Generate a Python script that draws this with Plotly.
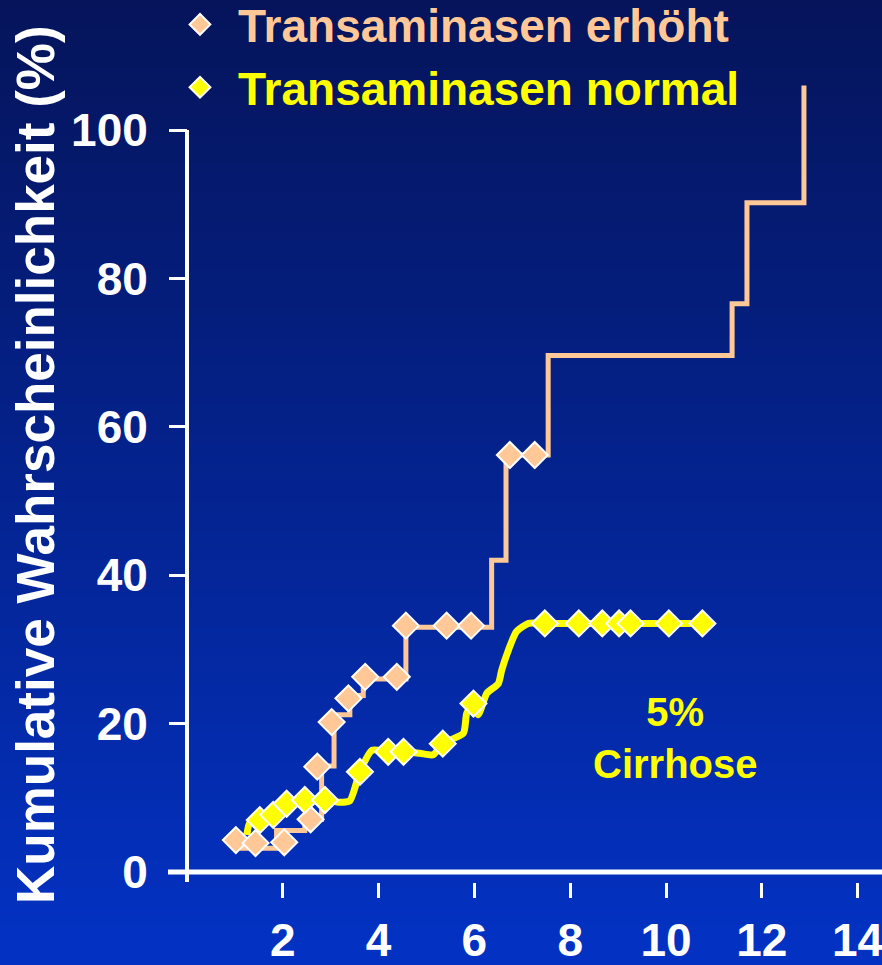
import plotly.graph_objects as go

# ---------------- data ----------------
# Transaminasen erhöht: step curve vertices (hv) and marker points
erh_line_x = [1.0, 1.87, 2.46, 2.81, 3.07, 3.40, 3.68, 4.57, 6.36, 6.66, 7.54, 11.38, 11.69, 12.88]
erh_line_y = [3.2, 5.6, 7.1, 14.3, 21.2, 23.8, 26.0, 33.0, 42.0, 56.2, 69.6, 76.6, 90.2, 106.0]
erh_mark_x = [1.02, 1.43, 2.03, 2.58, 2.72, 3.02, 3.37, 3.72, 4.38, 4.57, 5.42, 5.93, 6.74, 7.26]
erh_mark_y = [4.3, 3.9, 4.0, 7.1, 14.2, 20.2, 23.4, 26.3, 26.3, 33.2, 33.2, 33.2, 56.2, 56.2]

# Transaminasen normal: smooth curve and marker points
nor_line_x = [1.25, 1.31, 1.52, 1.80, 2.08, 2.46, 2.88, 3.19, 3.40, 3.61, 3.86, 4.20, 4.52, 4.86,
              5.14, 5.34, 5.77, 5.84, 5.98, 6.08, 6.26, 6.50, 6.57, 6.71, 6.88, 7.13, 7.47, 8.18,
              8.67, 9.02, 9.26, 10.06, 10.76]
nor_line_y = [5.0, 6.6, 7.0, 7.7, 9.2, 9.7, 9.7, 9.4, 9.6, 13.5, 16.4, 16.2, 16.2, 16.0,
              15.8, 17.3, 18.7, 21.4, 22.7, 21.2, 24.1, 25.4, 27.2, 29.9, 32.4, 33.5, 33.5, 33.5,
              33.5, 33.5, 33.5, 33.5, 33.5]
nor_mark_x = [1.52, 1.80, 2.08, 2.46, 2.88, 3.61, 4.20, 4.52, 5.34, 5.98, 7.47, 8.18, 8.67, 9.02,
              9.26, 10.06, 10.76]
nor_mark_y = [7.0, 7.7, 9.2, 9.7, 9.7, 13.5, 16.2, 16.2, 17.3, 22.7, 33.5, 33.5, 33.5, 33.5,
              33.5, 33.5, 33.5]

x_ticks = [2, 4, 6, 8, 10, 12, 14]
x_tick_labels = ["2", "4", "6", "8", "10", "12", "14"]
y_ticks = [0, 20, 40, 60, 80, 100]
y_tick_labels = ["0", "20", "40", "60", "80", "100"]

series_names = ["Transaminasen erhöht", "Transaminasen normal"]
y_title = "Kumulative Wahrscheinlichkeit (%)"
note_text = "5%<br>Cirrhose"

ORANGE = "#FFC896"
YELLOW = "#FFFF00"
FONT = "Liberation Sans, Arial, sans-serif"

# ---------------- layout geometry ----------------
W, H = 882, 965
ML, MR, MT, MB = 168, 0, 80, 83
PW, PH = W - ML - MR, H - MT - MB

fig = go.Figure()

fig.add_trace(go.Scatter(x=erh_line_x, y=erh_line_y, mode="lines",
                         line=dict(color=ORANGE, width=5, shape="hv"),
                         showlegend=False, hoverinfo="skip"))
fig.add_trace(go.Scatter(x=nor_line_x, y=nor_line_y, mode="lines",
                         line=dict(color=YELLOW, width=7, shape="spline", smoothing=0.6),
                         showlegend=False, hoverinfo="skip"))
fig.add_trace(go.Scatter(x=erh_mark_x, y=erh_mark_y, mode="markers",
                         name=f"<span style='color:{ORANGE}'>{series_names[0]}</span>",
                         marker=dict(symbol="diamond", size=20, color=ORANGE,
                                     line=dict(color="white", width=2))))
fig.add_trace(go.Scatter(x=nor_mark_x, y=nor_mark_y, mode="markers",
                         name=f"<span style='color:{YELLOW}'>{series_names[1]}</span>",
                         marker=dict(symbol="diamond", size=20, color=YELLOW,
                                     line=dict(color="white", width=2))))

# background gradient bands (paper coords)
shapes = []
top_c = (5, 20, 90)
bot_c = (3, 50, 196)
N = 100
for i in range(N):
    p0 = i * H / N
    p1 = (i + 1) * H / N
    t = (i + 0.5) / N
    c = tuple(round(top_c[k] + (bot_c[k] - top_c[k]) * t) for k in range(3))
    shapes.append(dict(type="rect", xref="paper", yref="paper",
                       x0=-ML / PW - 0.01, x1=1.01,
                       y0=(H - MB - p1 - 0.6) / PH,
                       y1=(H - MB - p0 + 0.6) / PH,
                       line=dict(width=0), fillcolor=f"rgb{c}", layer="below"))

# axis lines
shapes.append(dict(type="line", xref="x", yref="y", x0=-0.5, x1=15, y0=0, y1=0,
                   line=dict(color="white", width=5), layer="above"))
shapes.append(dict(type="line", xref="x", yref="y", x0=0, x1=0, y0=-2.2, y1=100,
                   line=dict(color="white", width=4), layer="above"))

x0px = 187
ppu_x = 47.9
x_lo = -(x0px - ML) / ppu_x
x_hi = x_lo + PW / ppu_x
ppu_y = 7.42
y0px = 872
y_lo = -(MT + PH - y0px) / ppu_y
y_hi = y_lo + PH / ppu_y

fig.update_layout(
    width=W, height=H,
    margin=dict(l=ML, r=MR, t=MT, b=MB, autoexpand=False),
    paper_bgcolor="#0a2a9a",
    plot_bgcolor="rgba(0,0,0,0)",
    shapes=shapes,
    showlegend=True,
    legend=dict(x=(162 - ML) / PW, y=(H - MB + 12) / PH, xanchor="left", yanchor="top",
                bgcolor="rgba(0,0,0,0)", itemwidth=66,
                font=dict(family=FONT, size=46, color="white", weight="bold"),
                itemsizing="trace", tracegroupgap=0),
    xaxis=dict(range=[x_lo, x_hi], showgrid=False, zeroline=False, showline=False,
               tickmode="array", tickvals=x_ticks, ticktext=x_tick_labels,
               ticks="outside", ticklen=15, tickwidth=3, tickcolor="white",
               ticklabelstandoff=3, ticklabeloverflow="allow",
               tickfont=dict(family=FONT, size=46, color="white", weight="bold")),
    yaxis=dict(range=[y_lo, y_hi], showgrid=False, zeroline=False, showline=False,
               anchor="free", position=(x0px - ML) / PW,
               tickmode="array", tickvals=y_ticks, ticktext=y_tick_labels,
               ticks="outside", ticklen=18, tickwidth=3, tickcolor="white",
               ticklabelstandoff=12, ticklabeloverflow="allow",
               tickfont=dict(family=FONT, size=46, color="white", weight="bold")),
    annotations=[
        dict(text=y_title, textangle=-90, xref="paper", yref="paper",
             x=(35 - ML) / PW, y=(H - MB - 465) / PH, xanchor="center", yanchor="middle",
             showarrow=False,
             font=dict(family=FONT, size=53, color="white", weight="bold")),
        dict(text=note_text, xref="x", yref="y", x=10.19, y=18, showarrow=False,
             xanchor="center", yanchor="middle",
             font=dict(family=FONT, size=40, color=YELLOW, weight="bold")),
    ],
)

fig.write_html("out.html", config={"displayModeBar": False})
with open("out.html", "r", encoding="utf-8") as f:
    html = f.read()
html = html.replace("<head>", "<head><style>html,body{margin:0;padding:0;overflow:hidden;}</style>", 1)
with open("out.html", "w", encoding="utf-8") as f:
    f.write(html)
